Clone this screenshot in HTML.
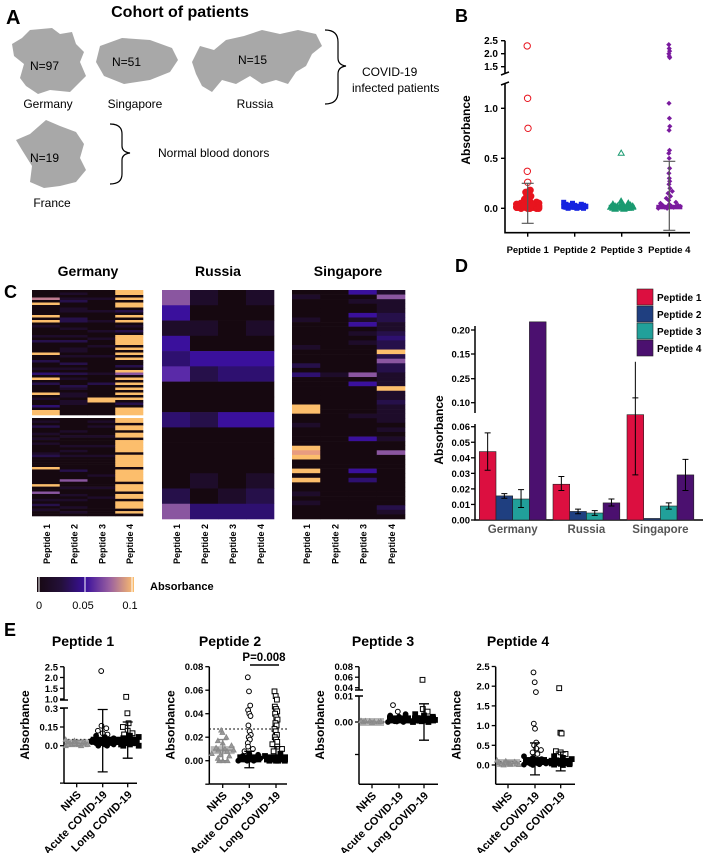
<!DOCTYPE html>
<html><head><meta charset="utf-8">
<style>
html,body{margin:0;padding:0;background:#fff;}
svg{display:block;font-family:"Liberation Sans",Arial,sans-serif;}
.b{font-weight:bold;}
</style></head>
<body>
<svg id="fig" width="708" height="853" viewBox="0 0 708 853" xmlns="http://www.w3.org/2000/svg">
<g>
<text x="6" y="24" font-size="20" class="b">A</text>
<text x="180" y="17" font-size="16" class="b" text-anchor="middle">Cohort of patients</text>
<path d="M30,30 L52,28 L60,34 L72,32 L76,44 L84,52 L80,62 L86,76 L78,84 L70,92 L50,90 L38,94 L26,86 L20,78 L24,64 L14,56 L12,44 L22,38 Z" fill="#a8a8a8"/>
<path d="M100,46 L122,38 L150,40 L172,48 L178,60 L170,72 L150,80 L124,84 L104,76 L96,62 Z" fill="#a8a8a8"/>
<path d="M192,62 L200,46 L214,50 L226,40 L244,36 L262,30 L280,34 L298,30 L316,34 L322,46 L312,54 L306,66 L296,72 L288,84 L276,80 L262,84 L250,76 L236,84 L222,80 L212,92 L202,86 L196,74 Z" fill="#a8a8a8"/>
<path d="M46,120 L60,126 L76,132 L84,144 L80,158 L86,170 L76,182 L60,186 L44,188 L30,182 L32,166 L22,150 L16,140 L30,134 Z" fill="#a8a8a8"/>
<text x="30" y="70" font-size="12">N=97</text>
<text x="112" y="66" font-size="12">N=51</text>
<text x="238" y="64" font-size="12">N=15</text>
<text x="30" y="162" font-size="12">N=19</text>
<text x="48" y="108" font-size="12" text-anchor="middle">Germany</text>
<text x="135" y="108" font-size="12" text-anchor="middle">Singapore</text>
<text x="255" y="108" font-size="12" text-anchor="middle">Russia</text>
<text x="52" y="207" font-size="12" text-anchor="middle">France</text>
<path d="M325,30 Q338,30 338,42 L338,58 Q338,65 346,66 Q338,67 338,74 L338,92 Q338,104 325,104" fill="none" stroke="#000" stroke-width="1.2"/>
<text x="362" y="76" font-size="12">COVID-19</text>
<text x="352" y="92" font-size="12">infected patients</text>
<path d="M110,124 Q122,124 122,134 L122,146 Q122,152 130,153 Q122,154 122,160 L122,174 Q122,184 110,184" fill="none" stroke="#000" stroke-width="1.2"/>
<text x="158" y="157" font-size="12">Normal blood donors</text>
</g>
<g id="pb"></g>
<g id="pc"></g>
<g id="pd"></g>
<g id="pe"></g>
</svg>
<script>
// ---------- DATA ----------
const bCategories = ["Peptide 1","Peptide 2","Peptide 3","Peptide 4"];
const bP1 = [2.3,1.1,0.8,0.37,0.26,0.18,0.16,0.14,0.12,0.11,0.1,0.09,0.08,0.07,0.07,0.06,0.06,0.05,0.05,0.05,0.04,0.04,0.04,0.03,0.03,0.03,0.03,0.02,0.02,0.02,0.02,0.02,0.01,0.01,0.01,0.01,0.01,0.0,0.0,0.0,0.0,0.0,0.02,0.03,0.01];
const bP2 = [0.06,0.05,0.04,0.04,0.03,0.03,0.03,0.02,0.02,0.02,0.02,0.02,0.01,0.01,0.01,0.01,0.0,0.0,0.0,0.02,0.03,0.01];
const bP3 = [0.55,0.07,0.05,0.04,0.03,0.03,0.02,0.02,0.02,0.01,0.01,0.01,0.01,0.0,0.0,0.0,0.0,-0.01,-0.01,0.01,0.02,0.0];
const bP4 = [2.35,2.2,2.1,2.0,1.9,1.85,1.05,0.9,0.82,0.78,0.58,0.55,0.5,0.4,0.35,0.3,0.27,0.24,0.2,0.17,0.15,0.12,0.1,0.08,0.06,0.05,0.04,0.03,0.03,0.02,0.02,0.01,0.01,0.0,0.0,0.02,0.03];
const bErrHi = [0.25,0.05,0.04,0.47];
const bErrLo = [-0.15,0.0,-0.01,-0.22];
const cGermanyTop = ["00070900009090100010200009002001030902000901003099","01012001100220010010200110100201020100210110110000","00010000100010001001001000100000010002000009900000","99090990209090102099990909090020960909090909020999"];
const cGermanyBottom = ["0102001010100012000090000009006001020100","0000010100010101000002000600100101001010","0101000100010001000000010000100010000000","9909909909999909999909999909990990999090"];
const cRussia = ["641435003000026","101042002000103","000043004000013","101043004000123"];
const cSingapore = ["01000010000010002030000009900100009890090900101000","00000000000000000010000000000000000000000000000000","40100414010100000060400000010000400000040300000000","16111221123229262211191121111010100600000000000210"];
const dGroups = ["Germany","Russia","Singapore"];
const dSeries = ["Peptide 1","Peptide 2","Peptide 3","Peptide 4"];
const dMeans = [[0.044,0.0155,0.0135,0.217],[0.023,0.0055,0.0045,0.011],[0.080,0.001,0.009,0.029]];
const dErrLo = [[0.032,0.014,0.008,0.217],[0.019,0.004,0.003,0.009],[0.029,0.001,0.007,0.019]];
const dErrHi = [[0.056,0.017,0.0195,0.217],[0.028,0.007,0.006,0.0135],[0.105,0.001,0.011,0.039]];
const dTickVals = [0,0.01,0.02,0.03,0.04,0.05,0.06];
const dTickLabels = ["0.00","0.01","0.02","0.03","0.04","0.05","0.06"];
const dUpperTickLabels = ["0.10","0.25","0.15","0.20"];
const eGroups = ["NHS","Acute COVID-19","Long COVID-19"];
const eP1 = [[0.05,0.04,0.03,0.03,0.02,0.02,0.02,0.01,0.01,0.01,0.0,0.0,0.02,0.03,0.01],
  [2.3,0.16,0.14,0.12,0.1,0.09,0.08,0.07,0.06,0.05,0.05,0.04,0.04,0.03,0.03,0.02,0.02,0.02,0.01,0.01,0.0,0.0,0.03,0.02],
  [1.1,0.26,0.18,0.15,0.12,0.1,0.09,0.08,0.07,0.06,0.05,0.04,0.04,0.03,0.03,0.02,0.02,0.01,0.01,0.0,0.0,0.02,0.03]];
const eP1Err = [[0.02,0.0,0.04],[0.04,-0.21,0.29],[0.04,-0.1,0.19]];
const eP2 = [[0.026,0.024,0.02,0.017,0.015,0.013,0.011,0.01,0.009,0.009,0.008,0.006,0.005,0.004,0.002,0.0,0.0,0.0],
  [0.071,0.059,0.047,0.043,0.04,0.038,0.03,0.025,0.022,0.02,0.018,0.015,0.012,0.01,0.008,0.006,0.005,0.004,0.003,0.002,0.001,0.0,0.0,0.0,0.001,0.002],
  [0.059,0.055,0.052,0.046,0.044,0.042,0.04,0.037,0.035,0.032,0.03,0.027,0.025,0.022,0.02,0.018,0.016,0.014,0.012,0.01,0.008,0.006,0.004,0.003,0.002,0.001,0.0,0.0,0.0,0.0]];
const eP2Err = [[0.009,0.0,0.018],[0.002,-0.006,0.008],[0.002,-0.001,0.012]];
const eP3 = [[0.0005,0.0003,0.0,0.0,-0.0002,0.0002,0.0004,0.0001],
  [0.0065,0.004,0.003,0.0025,0.002,0.0015,0.001,0.0008,0.0005,0.0003,0.0,0.0,0.0002,0.0006],
  [0.055,0.005,0.004,0.003,0.0025,0.002,0.0015,0.001,0.0008,0.0005,0.0,0.0,0.0003,0.0007]];
const eP3Err = [[0.0,0.0,0.0],[0.001,0.0,0.002],[0.001,-0.007,0.007]];
const eP4 = [[0.12,0.1,0.08,0.06,0.05,0.04,0.03,0.02,0.01,0.0],
  [2.35,2.1,1.85,1.05,0.92,0.57,0.5,0.42,0.38,0.32,0.28,0.22,0.18,0.15,0.12,0.1,0.08,0.06,0.05,0.04,0.03,0.02,0.01,0.0],
  [1.95,0.82,0.8,0.35,0.32,0.28,0.22,0.18,0.15,0.12,0.1,0.08,0.06,0.05,0.04,0.03,0.02,0.01,0.0]];
const eP4Err = [[0.05,0.0,0.1],[0.1,-0.25,0.56],[0.08,-0.15,0.33]];

// ---------- HELPERS ----------
const NS="http://www.w3.org/2000/svg";
function mk(parent,tag,attrs,text){const e=document.createElementNS(NS,tag);for(const k in attrs)e.setAttribute(k,attrs[k]);if(text!==undefined)e.textContent=text;parent.appendChild(e);return e;}
function jit(i){return (((i*37)%11)-5)/5;}

// ---------- PANEL B ----------
(function(){
const g=document.getElementById('pb');
const L=mk(g,'text',{x:455,y:22,'font-size':18,'font-weight':'bold'},'B');


const X0=505, Y0=232.7, XE=690;
function yB(v){ if(v<=1.25) return 208.3-v*100; return 66.7-(v-1.5)*26; }
const cx=[527.7,574.7,621.7,669.3];
const ax=mk(g,'path',{d:`M${X0},${yB(2.5)} L${X0},73 M${X0},83 L${X0},${Y0} L${XE},${Y0}`,stroke:'#000','stroke-width':1.6,fill:'none'});


mk(g,'path',{d:`M${X0-4},75 L${X0+4},72 M${X0-4},85 L${X0+4},82`,stroke:'#000','stroke-width':1.5});
const ticks=[[2.5,"2.5"],[2.0,"2.0"],[1.5,"1.5"],[1.0,"1.0"],[0.5,"0.5"],[0,"0.0"]];
ticks.forEach(t=>{const y=yB(t[0]);mk(g,'line',{x1:X0-4,x2:X0,y1:y,y2:y,stroke:'#000','stroke-width':1.4});
 const tx=mk(g,'text',{x:X0-7,y:y+3.5,'font-size':10,'font-weight':'bold','text-anchor':'end'},t[1]);
 
 });
const yt=mk(g,'text',{x:0,y:0,'font-size':12,'font-weight':'bold','text-anchor':'middle',transform:`translate(470,130) rotate(-90)`},'Absorbance');


const sets=[bP1,bP2,bP3,bP4];
const cols=['#e8141e','#1522e0','#1a9a70','#7a1a9e'];
sets.forEach((arr,k)=>{
 mk(g,'line',{x1:cx[k],x2:cx[k],y1:Y0,y2:Y0+4,stroke:'#000','stroke-width':1.4});
 const lb=mk(g,'text',{x:cx[k],y:253,'font-size':9.5,'font-weight':'bold','text-anchor':'middle'},bCategories[k]);
 
 
 const blob=mk(g,'rect',{x:cx[k]-13,y:yB(0.035),width:26,height:yB(-0.01)-yB(0.035),fill:cols[k]});
 
 
 arr.forEach((v,i)=>{const x=cx[k]+jit(i)*(v>0.2?0.5:(v>0.06?3:11)), y=yB(v);let p;
  if(k===0) p=mk(g,'circle',{cx:x,cy:y,r:3.2,fill:v>0.2?'none':cols[k],stroke:cols[k],'stroke-width':1});
  else if(k===1) p=mk(g,'rect',{x:x-2.5,y:y-2.5,width:5,height:5,fill:cols[k]});
  else if(k===2) p=mk(g,'path',{d:`M${x},${y-3.2} L${x+3},${y+2} L${x-3},${y+2} Z`,fill:v>0.2?'none':cols[k],stroke:cols[k],'stroke-width':1});
  else p=mk(g,'path',{d:`M${x},${y-2.6} L${x+2.6},${y} L${x},${y+2.6} L${x-2.6},${y} Z`,fill:cols[k]});
  
  });
 if(k===0||k===3){const e=mk(g,'path',{d:`M${cx[k]},${yB(bErrHi[k])} L${cx[k]},${yB(bErrLo[k])} M${cx[k]-6},${yB(bErrHi[k])} L${cx[k]+6},${yB(bErrHi[k])} M${cx[k]-6},${yB(bErrLo[k])} L${cx[k]+6},${yB(bErrLo[k])}`,stroke:'#555','stroke-width':1.2,fill:'none'});
 
 }
});
})();

// ---------- PANEL C ----------
(function(){
const g=document.getElementById('pc');
const L=mk(g,'text',{x:4,y:298,'font-size':18,'font-weight':'bold'},'C');


const stops=['#160810','#1e0c2a','#26104a','#2e1070','#3a109c','#5a2aa8','#8a56a0','#c07c90','#e89c80','#fcbe6c'];
function heat(cols,x0,x1,y0,y1,name){
 const n=cols[0].length, w=(x1-x0)/cols.length, h=(y1-y0)/n;
 cols.forEach((s,c)=>{for(let r=0;r<n;r++){const lv=parseInt(s[r]||'0');
  const rc=mk(g,'rect',{x:x0+c*w,y:y0+r*h,width:w+0.3,height:h+0.3,fill:stops[lv]});
  
  }});
}
heat(cGermanyTop,32,143,290,415,'germany-heatmap');
heat(cGermanyBottom,32,143,418,516,'germany-heatmap');
heat(cRussia,162,274,290,519,'russia-heatmap');
heat(cSingapore,292,405,290,519,'singapore-heatmap');
[["Germany",88],["Russia",218],["Singapore",348]].forEach(t=>{const e=mk(g,'text',{x:t[1],y:276,'font-size':14,'font-weight':'bold','text-anchor':'middle'},t[0]);
 
 });
[[32,143],[162,274],[292,405]].forEach(r=>{const w=(r[1]-r[0])/4;for(let i=0;i<4;i++){const x=r[0]+w*(i+0.5)+4;
 const e=mk(g,'text',{x:0,y:0,'font-size':9,'font-weight':'bold','text-anchor':'end',transform:`translate(${x},524) rotate(-90)`},'Peptide '+(i+1));
 
 }});
const defs=mk(g,'defs',{});const lg=mk(defs,'linearGradient',{id:'cbar',x1:0,x2:1,y1:0,y2:0});
[[0,'#160810'],[0.25,'#24103a'],[0.5,'#3a109c'],[0.75,'#9a60a0'],[1,'#fcbe6c']].forEach(s=>mk(lg,'stop',{offset:s[0],'stop-color':s[1]}));
const cb=mk(g,'rect',{x:37,y:577,width:97,height:15,fill:'url(#cbar)'});


[39,85,132].forEach(x=>mk(g,'line',{x1:x,x2:x,y1:577,y2:592,stroke:'#fff','stroke-width':1}));
[["0",39],["0.05",83],["0.1",130]].forEach(t=>{const e=mk(g,'text',{x:t[1],y:609,'font-size':11,'text-anchor':'middle'},t[0]);
 
 });
const ct=mk(g,'text',{x:150,y:590,'font-size':11,'font-weight':'bold'},'Absorbance');


})();

// ---------- PANEL D ----------
(function(){
const g=document.getElementById('pd');
const L=mk(g,'text',{x:455,y:272,'font-size':18,'font-weight':'bold'},'D');


const X0=475, Y0=520, XE=703;
function yD(v){ if(v<=0.06) return 520-v*1555; if(v<=0.10) return 426.7-(v-0.06)*600; if(v<=0.15) return 402.7-(v-0.10)*974; return 354-(v-0.15)*480; }
mk(g,'path',{d:`M${X0},326 L${X0},413 M${X0},424 L${X0},${Y0} L${XE},${Y0}`,stroke:'#000','stroke-width':1.5,fill:'none'});
dTickVals.forEach((v,i)=>{const y=yD(v);mk(g,'line',{x1:X0-4,x2:X0,y1:y,y2:y,stroke:'#000','stroke-width':1.3});
 const e=mk(g,'text',{x:X0-5,y:y+3.5,'font-size':9.5,'font-weight':'bold','text-anchor':'end'},dTickLabels[i]);
 
 });
[402.7,378.7,354,330].forEach((y,i)=>{mk(g,'line',{x1:X0-4,x2:X0,y1:y,y2:y,stroke:'#000','stroke-width':1.3});
 const e=mk(g,'text',{x:X0-5,y:y+3.5,'font-size':9.5,'font-weight':'bold','text-anchor':'end'},dUpperTickLabels[i]);
 
 });
const yt=mk(g,'text',{x:0,y:0,'font-size':12,'font-weight':'bold','text-anchor':'middle',transform:`translate(443,430) rotate(-90)`},'Absorbance');


const cols=['#dc0f40','#1f3f80','#21a09a','#4b106f'];
const gx=[479.3,553,627], bw=16.7;
dGroups.forEach((gn,gi)=>{
 dMeans[gi].forEach((v,si)=>{const x=gx[gi]+si*bw;
  const r=mk(g,'rect',{x:x,y:yD(v),width:bw,height:Y0-yD(v),fill:cols[si],stroke:'#222','stroke-width':0.6});
  
  
  if(dErrHi[gi][si]>v||dErrLo[gi][si]<v){const c=x+bw/2,h=yD(dErrHi[gi][si]),l=yD(dErrLo[gi][si]);
   const e=mk(g,'path',{d:`M${c},${h} L${c},${l} M${c-3},${h} L${c+3},${h} M${c-3},${l} L${c+3},${l}`,stroke:'#000','stroke-width':1,fill:'none'});
   
   }
 });
 const t=mk(g,'text',{x:gx[gi]+2*bw,y:533,'font-size':11.5,'font-weight':'bold','text-anchor':'middle',fill:'#555'},gn);
 
 
});
mk(g,'line',{x1:627+bw/2,x2:627+bw/2,y1:yD(0.142),y2:yD(0.105),stroke:'#000','stroke-width':1});
dSeries.forEach((s,i)=>{const y=289+i*17;
 const r=mk(g,'rect',{x:637,y:y,width:16,height:16,fill:cols[i],stroke:'#222','stroke-width':0.6});
 
 
 const t=mk(g,'text',{x:657,y:y+12,'font-size':10,'font-weight':'bold'},s);
 
 });
})();

// ---------- PANEL E ----------
(function(){
const g=document.getElementById('pe');
const L=mk(g,'text',{x:4,y:636,'font-size':18,'font-weight':'bold'},'E');


function plot(cfg){
 const {title,tx,ax,axY,axEnd,yTop,cats,yf,ticks,breakY,data,err,dot,name}=cfg;
 const t=mk(g,'text',{x:tx,y:646,'font-size':14,'font-weight':'bold','text-anchor':'middle'},title);
 
 
 let d=breakY?`M${ax},${yTop} L${ax},${breakY[0]} M${ax},${breakY[1]} L${ax},${axY}`:`M${ax},${yTop} L${ax},${axY}`;
 d+=` M${ax},${axY} L${axEnd},${axY}`;
 const a=mk(g,'path',{d:d,stroke:'#000','stroke-width':1.5,fill:'none'});
 
 
 if(breakY)mk(g,'path',{d:`M${ax-4},${breakY[0]} L${ax+4},${breakY[0]} M${ax-4},${breakY[1]} L${ax+4},${breakY[1]}`,stroke:'#000','stroke-width':1.5});
 ticks.forEach(tk=>{const y=yf(tk[0]);mk(g,'line',{x1:ax-4,x2:ax,y1:y,y2:y,stroke:'#000','stroke-width':1.3});
  if(tk[1]!==''){const e=mk(g,'text',{x:ax-6,y:y+3.5,'font-size':9.5,'font-weight':'bold','text-anchor':'end'},tk[1]);
  
  }});
 const yt=mk(g,'text',{x:0,y:0,'font-size':12,'font-weight':'bold','text-anchor':'middle',transform:`translate(${ax-35},725) rotate(-90)`},'Absorbance');
 
 
 const dl=mk(g,'line',{x1:ax,x2:axEnd,y1:yf(dot),y2:yf(dot),stroke:'#000','stroke-width':1.2,'stroke-dasharray':'1.5,2.5'});
 
 
 cats.forEach((cx,k)=>{
  mk(g,'line',{x1:cx,x2:cx,y1:axY,y2:axY+4,stroke:'#000','stroke-width':1.3});
  const lb=mk(g,'text',{x:0,y:0,'font-size':11,'font-weight':'bold','text-anchor':'end',transform:`translate(${cx+5},${axY+12}) rotate(-45)`},eGroups[k]);
  
  
  const colr=k===0?'#888':'#000';
  const bl=mk(g,'rect',{x:cx-12,y:yf(err[k][0])-4,width:24,height:8,fill:colr,opacity:k===0?0.6:1});
  
  
  data[k].forEach((v,i)=>{const y=yf(v);const dy=Math.abs(y-yf(err[k][0]));const spread=dy<6?11:(dy<15?6:1.5);const x=cx+jit(i)*spread;let p;
   if(k===0)p=mk(g,'path',{d:`M${x},${y-2.5} L${x+2.5},${y+2} L${x-2.5},${y+2} Z`,fill:'#999',stroke:'#888','stroke-width':0.8});
   else if(k===1)p=mk(g,'circle',{cx:x,cy:y,r:2.4,fill:dy<6?'#000':'#fff',stroke:'#000','stroke-width':1});
   else p=mk(g,'rect',{x:x-2.4,y:y-2.4,width:4.8,height:4.8,fill:dy<6?'#000':'#fff',stroke:'#000','stroke-width':1});
   
   });
  const m=err[k][0],lo=err[k][1],hi=err[k][2];
  const e=mk(g,'path',{d:`M${cx},${yf(hi)} L${cx},${yf(lo)} M${cx-5},${yf(hi)} L${cx+5},${yf(hi)} M${cx-5},${yf(lo)} L${cx+5},${yf(lo)} M${cx-10},${yf(m)} L${cx+10},${yf(m)}`,stroke:colr,'stroke-width':1.3,fill:'none'});
  
  
 });
}
plot({name:'e-peptide-1',title:'Peptide 1',tx:83,ax:64,axY:783.3,axEnd:137,yTop:666.7,cats:[76.7,102.7,127.7],
 yf:v=>v<=0.5?745.7-v*124.7:699-(v-1)*21.5,ticks:[[2.5,'2.5'],[2.0,'2.0'],[1.5,'1.5'],[1.0,'1.0'],[0.3,'0.3'],[0.15,'0.15'],[0,'0.0'],[-0.3,'']],
 breakY:[700,708],data:eP1,err:eP1Err,dot:0.05});
plot({name:'e-peptide-2',title:'Peptide 2',tx:230,ax:209.3,axY:784,axEnd:287,yTop:666.7,cats:[222.7,249.3,276],
 yf:v=>760.7-v*1175,ticks:[[0.08,'0.08'],[0.06,'0.06'],[0.04,'0.04'],[0.02,'0.02'],[0,'0.00'],[-0.02,'']],
 breakY:null,data:eP2,err:eP2Err,dot:0.027});
plot({name:'e-peptide-3',title:'Peptide 3',tx:383,ax:359,axY:784.3,axEnd:438,yTop:666.7,cats:[372,399,424],
 yf:v=>v<=0.012?722-v*2600:687.7-(v-0.04)*525,ticks:[[0.08,'0.08'],[0.06,'0.06'],[0.04,'0.04'],[0.01,'0.01'],[0,'0.00'],[-0.0125,'']],
 breakY:[690,696],data:eP3,err:eP3Err,dot:0});
plot({name:'e-peptide-4',title:'Peptide 4',tx:518,ax:495.7,axY:784.3,axEnd:575,yTop:666.7,cats:[508,535,560.7],
 yf:v=>765-v*39.4,ticks:[[2.5,'2.5'],[2.0,'2.0'],[1.5,'1.5'],[1.0,'1.0'],[0.5,'0.5'],[0,'0.0']],
 breakY:null,data:eP4,err:eP4Err,dot:0.09});
const pl=mk(g,'line',{x1:250,x2:279,y1:665,y2:665,stroke:'#000','stroke-width':1.5});


const pt=mk(g,'text',{x:264,y:661,'font-size':11.5,'font-weight':'bold','text-anchor':'middle'},'P=0.008');


})();
</script>
</body></html>
